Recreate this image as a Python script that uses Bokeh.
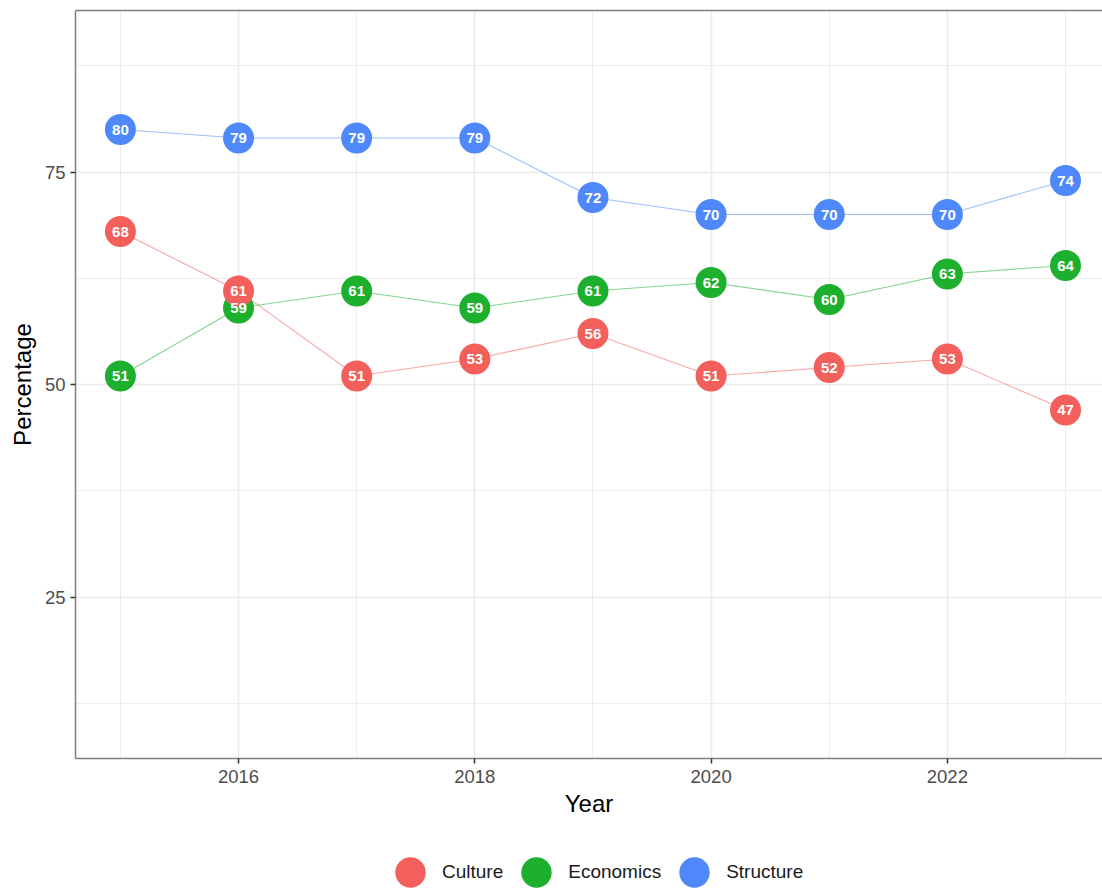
from bokeh.plotting import figure
from bokeh.layouts import column
from bokeh.models import (Range1d, FixedTicker, LinearAxis, Legend, LegendItem,
                          ColumnDataSource)
from bokeh.core.properties import value
from bokeh.embed import file_html
from bokeh.resources import INLINE

years = [2015, 2016, 2017, 2018, 2019, 2020, 2021, 2022, 2023]
culture = [68, 61, 51, 53, 56, 51, 52, 53, 47]
economics = [51, 59, 61, 59, 61, 62, 60, 63, 64]
structure = [80, 79, 79, 79, 72, 70, 70, 70, 74]

series_names = ["Culture", "Economics", "Structure"]
series_values = [culture, economics, structure]
colors = ["#F35F5B", "#1DB02F", "#4F88FB"]

FONT = "Liberation Sans"

p = figure(width=1102, height=850, output_backend="svg", toolbar_location=None,
           x_range=Range1d(2014.62, 2023.313), y_range=Range1d(6, 94),
           min_border_left=75, min_border_top=10, min_border_right=0,
           min_border_bottom=92)
p.outline_line_color = None
p.background_fill_color = "white"
p.border_fill_color = "white"

xt = FixedTicker(ticks=[2016, 2018, 2020, 2022], minor_ticks=[2015, 2017, 2019, 2021, 2023])
yt = FixedTicker(ticks=[25, 50, 75], minor_ticks=[12.5, 37.5, 62.5, 87.5])
p.xaxis.ticker = xt
p.yaxis.ticker = yt

for ax in (p.xaxis, p.yaxis):
    ax.axis_line_color = "#7f7f7f"
    ax.axis_line_width = 1.5
    ax.major_tick_line_color = "#333333"
    ax.major_tick_line_width = 1.5
    ax.major_tick_in = 0
    ax.major_tick_out = 5
    ax.minor_tick_line_color = None
    ax.major_label_text_font = FONT
    ax.major_label_text_font_size = "18.5px"
    ax.major_label_text_color = "#4d4d4d"
    ax.axis_label_text_font = FONT
    ax.axis_label_text_font_size = "24px"
    ax.axis_label_text_font_style = "normal"
    ax.axis_label_text_color = "black"

p.xaxis.axis_label = "Year"
p.yaxis.axis_label = "Percentage"
p.xaxis.major_label_standoff = 6
p.yaxis.major_label_standoff = 5
p.xaxis.axis_label_standoff = 4
p.yaxis.axis_label_standoff = 6

top = LinearAxis(ticker=FixedTicker(ticks=[]), axis_line_color="#7f7f7f", axis_line_width=1.5,
                 major_tick_line_color=None, minor_tick_line_color=None,
                 major_tick_out=0, major_label_standoff=0,
                 major_label_text_font_size="0px")
p.add_layout(top, "above")

for g in (p.xgrid, p.ygrid):
    g.grid_line_color = "#ebebeb"
    g.grid_line_width = 1.6
    g.minor_grid_line_color = "#ebebeb"
    g.minor_grid_line_width = 0.9

sources = []
for name, vals, c in zip(series_names, series_values, colors):
    src = ColumnDataSource(dict(x=years, y=vals, label=[str(v) for v in vals]))
    sources.append(src)
    p.line("x", "y", source=src, line_color=c, line_width=1.1, line_alpha=0.55)

for idx in [1, 0, 2]:
    p.scatter("x", "y", source=sources[idx], size=31, fill_color=colors[idx],
              line_color=None)

for idx in range(3):
    p.text("x", "y", text="label", source=sources[idx], text_color="white",
           text_font_size="15px", text_font_style="bold", text_align="center",
           text_baseline="middle", text_font=value(FONT))

# legend figure
lf = figure(width=1102, height=38, output_backend="svg", toolbar_location=None,
            x_range=Range1d(0, 1), y_range=Range1d(0, 1),
            x_axis_type=None, y_axis_type=None,
            min_border_left=0, min_border_right=0, min_border_top=0, min_border_bottom=0)
lf.outline_line_color = None
lf.xgrid.visible = False
lf.ygrid.visible = False
legend_r = []
for idx in range(3):
    r = lf.ellipse([5], [5], width=31, height=31, width_units="screen", height_units="screen",
                   fill_color=colors[idx], line_color=None)
    legend_r.append(r)

legend = Legend(items=[LegendItem(label=n, renderers=[legend_r[i]]) for i, n in enumerate(series_names)],
                orientation="horizontal", location=(316, -3),
                glyph_width=38, glyph_height=38, label_text_font=FONT,
                label_text_font_size="19px", label_text_color="#1a1a1a",
                border_line_color=None, background_fill_alpha=0,
                padding=0, spacing=14, margin=0, label_standoff=13)
lf.add_layout(legend, "center")

layout = column(p, lf, spacing=0)
open("out.html", "w").write(file_html(layout, INLINE))
